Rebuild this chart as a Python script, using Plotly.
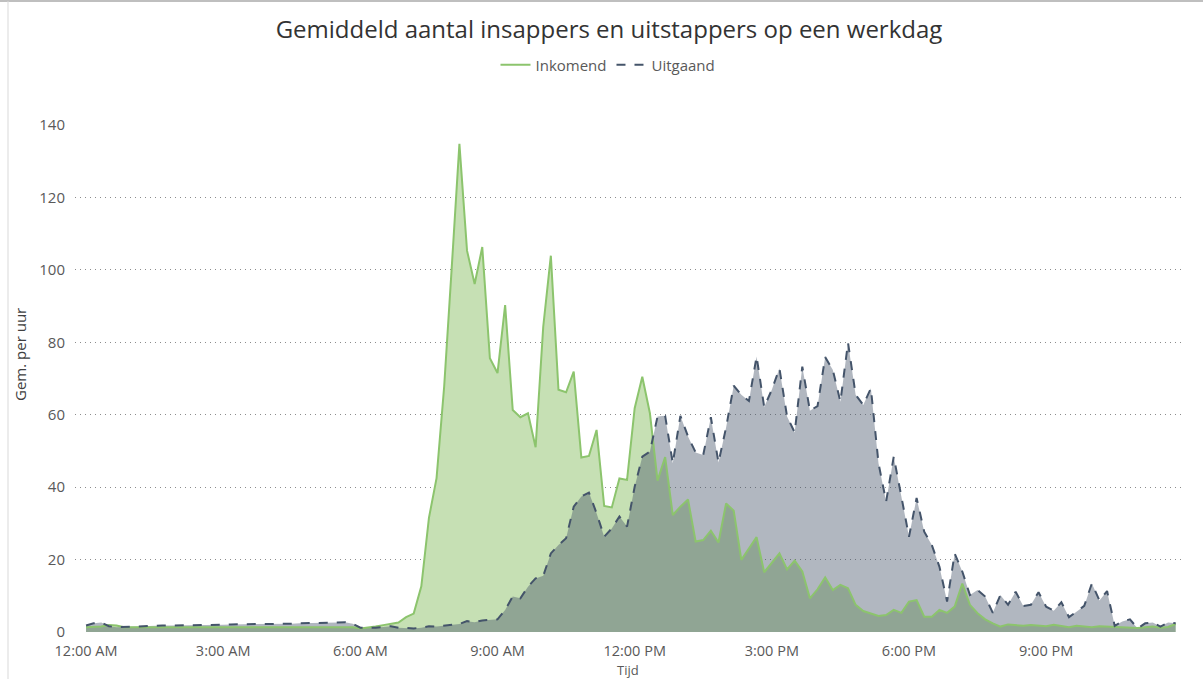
import plotly.graph_objects as go
import pandas as pd

# 10-minute slots over a working day (00:00 .. 23:50)
times = pd.date_range("2024-01-01 00:00", periods=144, freq="10min")

inkomend = [
    1.3, 1.4, 1.5, 1.9, 1.8, 1.3,
    1.3, 1.3, 1.3, 1.3, 1.3, 1.3, 1.3, 1.3, 1.3, 1.3,
    1.3, 1.3, 1.3, 1.3, 1.3, 1.3, 1.3, 1.3, 1.3, 1.3,
    1.3, 1.3, 1.3, 1.3, 1.3, 1.3, 1.3, 1.3, 1.3, 1.3,
    1.0, 1.2, 1.5, 1.9, 2.3, 2.6, 4.1, 5.1, 12.6, 31.5,
    42.5, 67.8, 100.9, 134.8, 105.3, 96.1, 106.3, 75.6, 71.5, 90.3,
    61.3, 59.3, 60.4, 51.0, 84.3, 103.9, 66.9, 66.2, 71.9, 48.2,
    48.6, 55.8, 34.8, 34.4, 42.4, 42.0, 61.8, 70.5, 60.4, 41.8,
    48.3, 32.3, 34.6, 36.6, 25.0, 25.4, 28.0, 24.7, 35.5, 33.5,
    19.9, 23.0, 26.2, 16.5, 19.2, 21.7, 17.3, 19.7, 16.7, 9.3,
    11.8, 15.1, 11.6, 13.0, 12.1, 7.5, 5.8, 5.2, 4.4, 4.7,
    6.1, 5.3, 8.4, 8.8, 4.2, 4.2, 6.1, 5.3, 7.0, 13.4,
    7.5, 5.2, 3.5, 2.4, 1.5, 2.1, 1.9, 1.7, 1.9, 1.8,
    1.6, 2.0, 1.7, 1.3, 1.7, 1.6, 1.3, 1.6, 1.5, 1.4,
    1.2, 1.3, 1.1, 1.3, 1.5, 1.2, 1.4, 2.2,
]

uitgaand = [
    1.8, 2.4, 2.6, 1.6, 1.3, 1.4, 1.6,
    1.7, 1.7, 1.7, 1.8, 1.8, 1.8, 1.9, 1.9, 1.9, 2.0,
    2.0, 2.0, 2.1, 2.1, 2.1, 2.2, 2.2, 2.2, 2.3, 2.3,
    2.3, 2.4, 2.4, 2.4, 2.5, 2.5, 2.6, 2.7,
    2.3, 1.2, 1.1, 1.2, 1.4, 1.6, 1.2, 1.0, 1.0, 1.2,
    1.6, 1.5, 1.8, 2.0, 2.2, 3.0, 2.7, 3.2, 3.3, 3.5,
    6.1, 9.8, 9.3, 12.5, 14.8, 15.5, 21.7, 24.0, 25.9, 34.6,
    37.4, 38.5, 32.8, 26.3, 28.6, 31.9, 29.1, 40.1, 48.4, 49.8,
    59.5, 59.7, 46.6, 59.7, 54.0, 49.6, 48.9, 59.3, 46.8, 56.5,
    68.0, 65.5, 63.8, 76.1, 62.1, 66.9, 72.8, 59.5, 55.1, 73.3,
    61.1, 62.4, 75.9, 72.4, 63.6, 79.9, 65.5, 62.7, 67.3, 46.6,
    36.0, 48.4, 37.4, 26.3, 37.0, 27.7, 24.0, 18.0, 8.4, 21.7,
    16.7, 10.2, 11.6, 9.8, 5.3, 10.2, 7.5, 11.1, 7.2, 7.5,
    11.0, 7.0, 5.9, 8.2, 4.1, 5.6, 7.2, 13.4, 8.7, 11.3,
    1.7, 2.9, 3.5, 1.0, 2.4, 2.6, 1.5, 2.6, 2.4,
]

assert len(inkomend) == 144, len(inkomend)
assert len(uitgaand) == 144, len(uitgaand)

tick_times = ["2024-01-01 00:00", "2024-01-01 03:00", "2024-01-01 06:00",
              "2024-01-01 09:00", "2024-01-01 12:00", "2024-01-01 15:00",
              "2024-01-01 18:00", "2024-01-01 21:00"]
tick_labels = ["12:00 AM", "3:00 AM", "6:00 AM", "9:00 AM",
               "12:00 PM", "3:00 PM", "6:00 PM", "9:00 PM"]

GREEN_LINE = "#8cc46d"
GREEN_FILL = "rgb(198,224,180)"
BLUE_LINE = "#44546a"
BLUE_FILL = "rgba(68,84,106,0.42)"
FONT = "Open Sans"

fig = go.Figure()
fig.add_trace(go.Scatter(x=times, y=inkomend, mode="lines", fill="tozeroy",
                         fillcolor=GREEN_FILL, line=dict(width=0, color=GREEN_LINE),
                         showlegend=False, hoverinfo="skip"))
fig.add_trace(go.Scatter(x=times, y=uitgaand, mode="lines", fill="tozeroy",
                         fillcolor=BLUE_FILL, line=dict(width=0, color=BLUE_LINE),
                         showlegend=False, hoverinfo="skip"))
fig.add_trace(go.Scatter(x=times, y=inkomend, mode="lines", name="Inkomend",
                         line=dict(width=2, color=GREEN_LINE)))
fig.add_trace(go.Scatter(x=times, y=uitgaand, mode="lines", name="Uitgaand",
                         line=dict(width=2, color=BLUE_LINE, dash="dash")))

# Page body margin is removed (post_script), so the figure fills the window.
# Plot area on screen: x 75..1181, y 125..632.
W, H = 1203, 679
L, R, T, B = 75, W - 1181, 125, H - 632


def px_x(p):
    return (p - 75) / (1181 - 75)


def px_y(p):
    return (632 - p) / (632 - 125)


fig.update_layout(
    width=W, height=H,
    margin=dict(l=L, r=R, t=T, b=B, autoexpand=False),
    paper_bgcolor="white", plot_bgcolor="white",
    font=dict(family=FONT, color="#595959", size=15),
    title=dict(text="Gemiddeld aantal insappers en uitstappers op een werkdag",
               x=609 / W, xanchor="center", xref="container",
               y=1 - 30 / H, yanchor="middle", yref="container",
               font=dict(family=FONT, size=24, color="#333333")),
    legend=dict(orientation="h", x=608 / W, xanchor="center", xref="container",
                y=1 - 65 / H, yanchor="middle", yref="container",
                font=dict(size=15, color="#595959"),
                itemwidth=30, tracegroupgap=0, bgcolor="rgba(0,0,0,0)"),
    xaxis=dict(type="date",
               range=["2023-12-31 23:45:30", "2024-01-01 23:57:00"],
               tickvals=tick_times, ticktext=tick_labels,
               showgrid=False, zeroline=False, showline=False,
               ticks="", tickfont=dict(size=14.5, color="#595959"),
               ticklabelstandoff=8),
    yaxis=dict(range=[0, 140], dtick=20, tick0=0,
               showgrid=True, gridcolor="#8c8c8c", griddash="1px,4px", gridwidth=1,
               zeroline=False, showline=False, ticks="",
               tickfont=dict(size=15, color="#595959"),
               ticklabelstandoff=9),
    annotations=[
        dict(text="Gem. per uur", textangle=-90,
             xref="paper", yref="paper",
             x=px_x(20), y=px_y(355), xanchor="center", yanchor="middle",
             showarrow=False, font=dict(size=15, color="#404040")),
        dict(text="Tijd", xref="paper", yref="paper",
             x=px_x(628), y=px_y(670), xanchor="center", yanchor="middle",
             showarrow=False, font=dict(size=13, color="#595959")),
    ],
    shapes=[
        dict(type="line", xref="paper", yref="paper",
             x0=px_x(0), x1=px_x(1203), y0=px_y(1), y1=px_y(1),
             line=dict(color="#bfbfbf", width=2)),
        dict(type="line", xref="paper", yref="paper",
             x0=px_x(8), x1=px_x(8), y0=px_y(1), y1=px_y(679),
             line=dict(color="#d9d9d9", width=1)),
    ],
)

fig.write_html("out.html",
               config={"displayModeBar": False},
               post_script="document.body.style.margin='0';"
                           "document.body.style.padding='0';")
